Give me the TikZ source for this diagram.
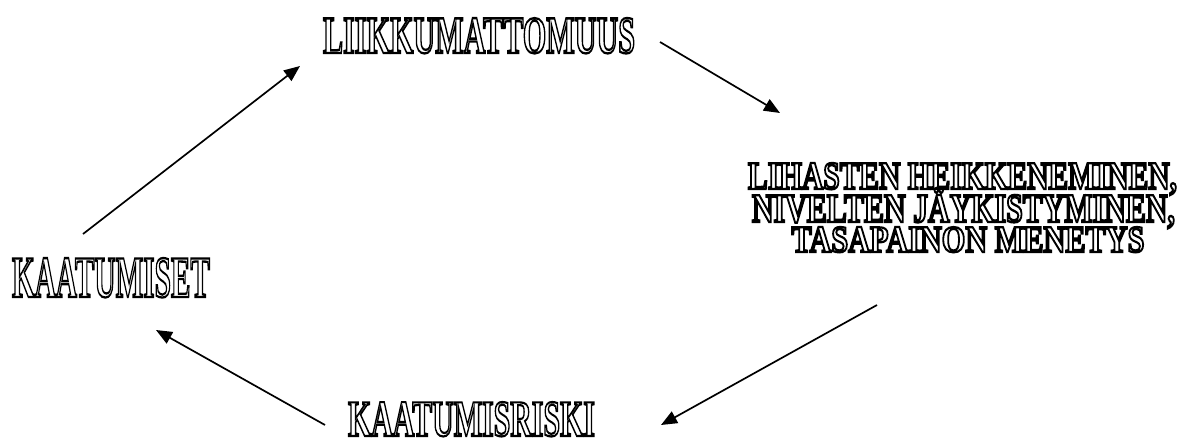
\documentclass[tikz,border=0pt]{standalone}
\usepackage{fontspec}
\setmainfont{Liberation Serif}
\usepackage{graphicx}
\usetikzlibrary{arrows.meta}
\newcommand\hollow[1]{\special{pdf:literal direct 1 Tr 2.3 w}#1\special{pdf:literal direct 0 Tr 0.4 w}}
\tikzset{
  lbl/.style={inner sep=0pt, outer sep=0pt, font=\bfseries, anchor=base},
  arr/.style={draw=black, line width=1.7pt, -{Triangle[length=16pt,width=13pt]}}
}
\begin{document}
\begin{tikzpicture}[x=1pt,y=-1pt]
\useasboundingbox[fill=white] (0,0) rectangle (1190,439);
% connector ends
\coordinate (a1s) at (83,234);
\coordinate (a1e) at (300,66);
\coordinate (a2s) at (660,42);
\coordinate (a2e) at (780,113);
\coordinate (a3s) at (877,305);
\coordinate (a3e) at (661,425);
\coordinate (a4s) at (325,425);
\coordinate (a4e) at (156,330);
\draw[arr] (a1s) -- (a1e);
\draw[arr] (a2s) -- (a2e);
\draw[arr] (a3s) -- (a3e);
\draw[arr] (a4s) -- (a4e);
% labels
\node[lbl] (liik) at (479,53)
  {\fontsize{53pt}{60pt}\selectfont\resizebox{312pt}{35pt}{\hollow{LIIKKUMATTOMUUS}}};
\node[lbl] (lihas1) at (962.5,189)
  {\fontsize{39pt}{45pt}\selectfont\resizebox{429pt}{26pt}{\hollow{LIHASTEN HEIKKENEMINEN,}}};
\node[lbl] (lihas2) at (963.5,222)
  {\fontsize{39pt}{45pt}\selectfont\resizebox{423pt}{27pt}{\vphantom{A}\smash{\hollow{NIVELTEN JÄYKISTYMINEN,}}}};
\node[lbl] (lihas3) at (968,252)
  {\fontsize{39pt}{45pt}\selectfont\resizebox{353pt}{25pt}{\hollow{TASAPAINON MENETYS}}};
\node[lbl] (kaatr) at (471.5,436)
  {\fontsize{54pt}{60pt}\selectfont\resizebox{247pt}{34pt}{\hollow{KAATUMISRISKI}}};
\node[lbl] (kaat) at (111,297)
  {\fontsize{59pt}{64pt}\selectfont\resizebox{198pt}{39pt}{\hollow{KAATUMISET}}};
\end{tikzpicture}
\end{document}
